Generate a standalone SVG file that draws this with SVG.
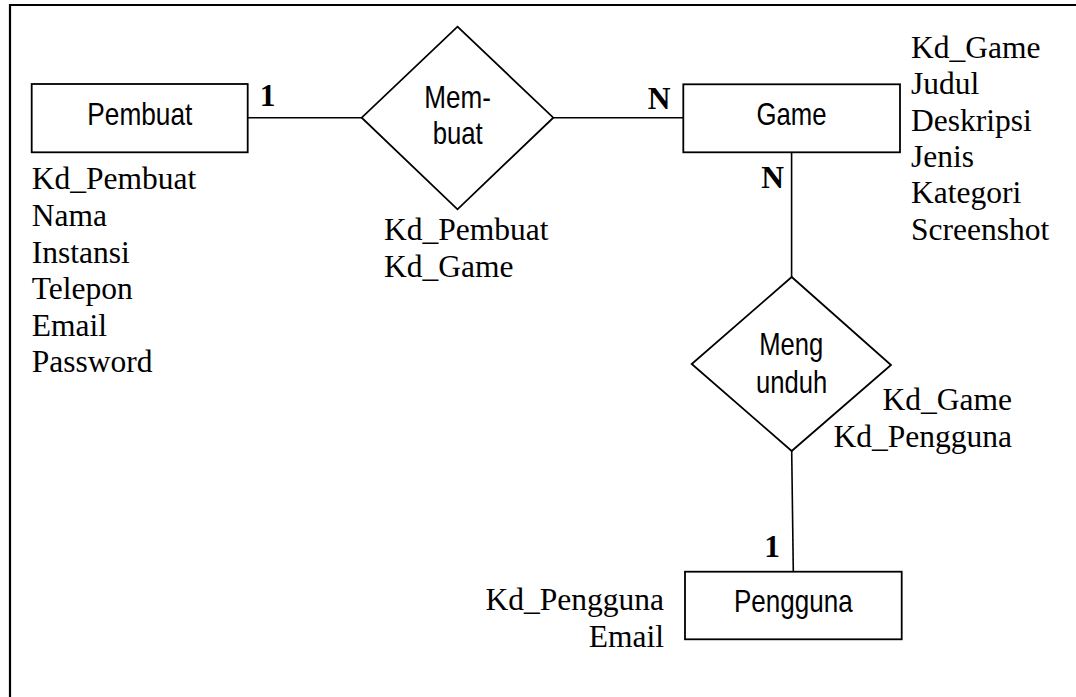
<svg xmlns="http://www.w3.org/2000/svg" width="1076" height="697" viewBox="0 0 1076 697">
<style>
.shape{fill:#fff;stroke:#000;stroke-width:1.8}
.conn{stroke:#000;stroke-width:1.6;fill:none}
.lbl{font-family:"Liberation Sans Narrow","Liberation Sans",Arial,sans-serif;font-size:31.5px;fill:#000;text-anchor:middle}
.attr{font-family:"Liberation Serif","Times New Roman",serif;font-size:31.5px;fill:#000}
.card{font-family:"Liberation Serif","Times New Roman",serif;font-size:31.5px;font-weight:bold;fill:#000;text-anchor:middle}
</style>
<rect x="0" y="0" width="1076" height="697" fill="#fff"/>
<path d="M10,697 V5 H1076" fill="none" stroke="#000" stroke-width="2.2"/>
<g id="connectors">
<line class="conn" x1="247.7" y1="117.7" x2="361.7" y2="117.7"/>
<line class="conn" x1="553.3" y1="117.7" x2="683.3" y2="117.7"/>
<line class="conn" x1="791.6" y1="152.3" x2="791.6" y2="277"/>
<line class="conn" x1="791.7" y1="451" x2="793.3" y2="571.7"/>
<text class="card" x="267.5" y="105.7">1</text>
<text class="card" x="659" y="109">N</text>
<text class="card" x="772.5" y="188.3">N</text>
<text class="card" x="772" y="556.7">1</text>
</g>
<g id="pembuat">
<rect class="shape" x="31.7" y="84" width="216" height="68.3"/>
<text class="lbl" x="139.8" y="125" textLength="105" lengthAdjust="spacingAndGlyphs">Pembuat</text>
<text class="attr" x="31.7" y="189.3">Kd_Pembuat</text>
<text class="attr" x="31.7" y="226">Nama</text>
<text class="attr" x="31.7" y="262.7">Instansi</text>
<text class="attr" x="31.7" y="299.3">Telepon</text>
<text class="attr" x="31.7" y="336">Email</text>
<text class="attr" x="31.7" y="371.7">Password</text>
</g>
<g id="membuat">
<polygon class="shape" points="457.5,26.7 553.3,117.7 457.5,209.3 361.7,117.7"/>
<text class="lbl" x="457.7" y="108.3" textLength="66.7" lengthAdjust="spacingAndGlyphs">Mem-</text>
<text class="lbl" x="457.7" y="144.3" textLength="50" lengthAdjust="spacingAndGlyphs">buat</text>
<text class="attr" x="384" y="240">Kd_Pembuat</text>
<text class="attr" x="384" y="276.7">Kd_Game</text>
</g>
<g id="game">
<rect class="shape" x="683.3" y="84.3" width="216.7" height="68"/>
<text class="lbl" x="791.5" y="125" textLength="70" lengthAdjust="spacingAndGlyphs">Game</text>
<text class="attr" x="911" y="58.3">Kd_Game</text>
<text class="attr" x="911" y="94.3">Judul</text>
<text class="attr" x="911" y="131">Deskripsi</text>
<text class="attr" x="911" y="166.7">Jenis</text>
<text class="attr" x="911" y="203.3">Kategori</text>
<text class="attr" x="911" y="240">Screenshot</text>
</g>
<g id="mengunduh">
<polygon class="shape" points="791.7,277 891,365 791.7,451 691.7,364"/>
<text class="lbl" x="791.3" y="355" textLength="64" lengthAdjust="spacingAndGlyphs">Meng</text>
<text class="lbl" x="791.6" y="392.7" textLength="71.3" lengthAdjust="spacingAndGlyphs">unduh</text>
<text class="attr" x="1012" y="410" text-anchor="end">Kd_Game</text>
<text class="attr" x="1012" y="446.7" text-anchor="end">Kd_Pengguna</text>
</g>
<g id="pengguna">
<rect class="shape" x="685" y="571.7" width="216.7" height="67.6"/>
<text class="lbl" x="793.3" y="612" textLength="118.7" lengthAdjust="spacingAndGlyphs">Pengguna</text>
<text class="attr" x="664" y="610" text-anchor="end">Kd_Pengguna</text>
<text class="attr" x="664" y="646.7" text-anchor="end">Email</text>
</g>
</svg>
